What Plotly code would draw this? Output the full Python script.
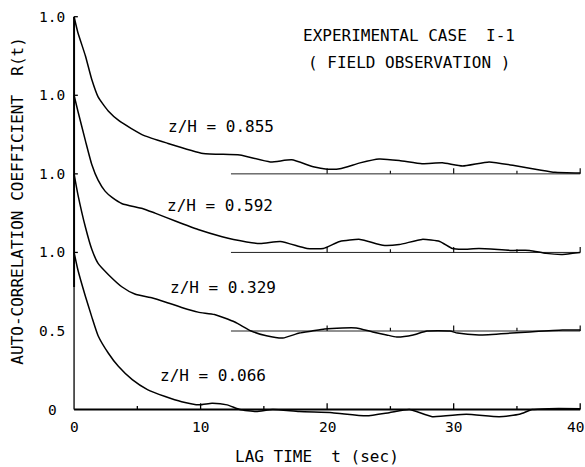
import plotly.graph_objects as go

# ---------------- data ----------------
zh_labels = ["z/H = 0.855", "z/H = 0.592", "z/H = 0.329", "z/H = 0.066"]
offsets = [1.5, 1.0, 0.5, 0.0]

t_0855 = [0, 0.3, 0.9, 1.4, 1.9, 2.7, 3.6, 4.5, 5.5, 7.3, 10.2, 13.1, 15.5, 17.2, 18.9,
          20.0, 21.0, 22.6, 24.1, 25.7, 27.5, 29.1, 30.7, 32.8, 35.0, 36.8, 38.0, 40.0]
r_0855 = [1.0, 0.90, 0.75, 0.60, 0.49, 0.40, 0.335, 0.29, 0.245, 0.197, 0.13, 0.12, 0.076, 0.089,
          0.045, 0.03, 0.032, 0.07, 0.095, 0.085, 0.064, 0.07, 0.05, 0.076, 0.05, 0.025, 0.01, 0.005]

t_0592 = [0, 0.3, 0.9, 1.4, 1.9, 2.45, 3.0, 3.8, 5.4, 6.4, 8.0, 9.8, 11.7, 12.6, 14.7, 16.3,
          17.8, 18.4, 19.7, 21.0, 22.6, 24.4, 25.7, 27.5, 28.9, 29.9, 30.7, 32.0, 34.6, 36.0,
          37.3, 38.6, 39.4, 40.0]
r_0592 = [1.0, 0.90, 0.71, 0.56, 0.46, 0.39, 0.35, 0.31, 0.28, 0.25, 0.20, 0.146, 0.10, 0.083,
          0.057, 0.07, 0.038, 0.025, 0.025, 0.07, 0.083, 0.045, 0.05, 0.083, 0.07, 0.025, 0.02,
          0.025, 0.013, 0.013, -0.006, -0.013, -0.006, 0.0]

t_0329 = [0, 0.3, 0.9, 1.4, 1.9, 2.7, 3.8, 4.8, 6.2, 7.2, 8.5, 9.8, 11.1, 12.7, 14.0, 15.2,
          16.5, 17.8, 18.8, 19.8, 21.2, 22.3, 23.6, 24.7, 25.5, 26.8, 27.9, 29.7, 30.3, 32.0,
          34.6, 36.0, 38.6, 40.0]
r_0329 = [1.0, 0.87, 0.66, 0.52, 0.43, 0.36, 0.28, 0.235, 0.21, 0.185, 0.15, 0.12, 0.105, 0.057,
          0.0, -0.03, -0.045, -0.013, 0.0, 0.013, 0.019, 0.019, -0.006, -0.025, -0.038, -0.025,
          0.0, 0.0, -0.013, -0.025, -0.013, -0.006, 0.006, 0.006]

t_0066 = [0, 0.3, 0.9, 1.4, 1.9, 2.7, 3.5, 4.6, 5.8, 7.2, 8.5, 9.9, 10.9, 12.1, 13.1, 14.4,
          15.7, 17.8, 20.4, 23.1, 24.9, 26.5, 28.3, 31.0, 33.6, 35.2, 36.2, 37.5, 40.0]
r_0066 = [1.0, 0.89, 0.72, 0.59, 0.47, 0.36, 0.275, 0.19, 0.127, 0.083, 0.05, 0.03, 0.04, 0.03,
          0.0, -0.013, 0.0, -0.013, -0.02, -0.04, -0.02, 0.0, -0.045, -0.03, -0.045, -0.03, 0.0,
          0.006, 0.006]

x_tick_vals = [0, 10, 20, 30, 40]
x_tick_text = ["0", "10", "20", "30", "40"]
x_minor_vals = [5, 15, 25, 35]
y_tick_vals = [0, 0.5, 1.0, 1.5, 2.0, 2.5]
y_tick_text = ["0", "0.5", "1.0", "1.0", "1.0", "1.0"]
baseline_start = 12.4
baseline_tick_vals = [20, 25, 30, 35, 40]

title_lines = ["EXPERIMENTAL CASE  I-1", "( FIELD OBSERVATION )"]
x_title = "LAG TIME  t (sec)"
y_title = "AUTO-CORRELATION COEFFICIENT  R(t)"

# ---------------- figure ----------------
FONT = "DejaVu Sans Mono"
fig = go.Figure()
curves = [(t_0855, r_0855), (t_0592, r_0592), (t_0329, r_0329), (t_0066, r_0066)]

# baselines for the offset curves
for off in offsets:
    if off == 0:
        continue
    fig.add_trace(go.Scatter(x=[baseline_start, 40], y=[off, off], mode="lines",
                             line=dict(color="#222", width=1), hoverinfo="skip"))
    bx, by = [], []
    for v in baseline_tick_vals:
        h = 0.035 if v % 10 == 0 else 0.02
        bx += [v, v, None]
        by += [off, off + h, None]
    fig.add_trace(go.Scatter(x=bx, y=by, mode="lines", line=dict(color="#111", width=1.2),
                             hoverinfo="skip"))

# curves
for (tt, rr), off in zip(curves, offsets):
    fig.add_trace(go.Scatter(x=tt, y=[r + off for r in rr], mode="lines",
                             line=dict(color="black", width=1.5, shape="spline", smoothing=0.5),
                             hoverinfo="skip"))

# main x axis
fig.add_trace(go.Scatter(x=[0, 40], y=[0, 0], mode="lines",
                         line=dict(color="black", width=2), hoverinfo="skip"))
tx, ty = [], []
for v in x_tick_vals[1:] + x_minor_vals:
    h = 0.04 if v % 10 == 0 else 0.022
    tx += [v, v, None]
    ty += [0, h, None]
fig.add_trace(go.Scatter(x=tx, y=ty, mode="lines", line=dict(color="black", width=1.3),
                         hoverinfo="skip"))

# main y axis
fig.add_trace(go.Scatter(x=[0, 0], y=[0, 0.78], mode="lines",
                         line=dict(color="black", width=1.3), hoverinfo="skip"))
fig.add_trace(go.Scatter(x=[0, 0], y=[0.78, 2.5], mode="lines",
                         line=dict(color="black", width=2), hoverinfo="skip"))
yx, yy = [], []
for v in y_tick_vals[2:]:
    yx += [0, 0.3, None]
    yy += [v, v, None]
fig.add_trace(go.Scatter(x=yx, y=yy, mode="lines", line=dict(color="black", width=1.3),
                         hoverinfo="skip"))

ann = []
for v, s in zip(x_tick_vals, x_tick_text):
    ann.append(dict(x=v, y=0, text=s, showarrow=False, xanchor="center", yanchor="middle",
                    yshift=-17, xshift=(-5 if v == 40 else 0), font=dict(size=14.5)))
for v, s in zip(y_tick_vals, y_tick_text):
    ann.append(dict(x=0, y=v, text=s, showarrow=False, xanchor="center", yanchor="middle",
                    xshift=-22, font=dict(size=14.5)))
label_pos = [(11.6, 1.80), (11.5, 1.30), (11.8, 0.774), (11.0, 0.22)]
for (lx, ly), s in zip(label_pos, zh_labels):
    ann.append(dict(x=lx, y=ly, text=s, showarrow=False, xanchor="center", yanchor="middle",
                    font=dict(size=16)))
ann.append(dict(x=17.9, y=2.38, text=title_lines[0], showarrow=False, xanchor="left",
                yanchor="middle", font=dict(size=16)))
ann.append(dict(x=18.3, y=2.21, text=title_lines[1], showarrow=False, xanchor="left",
                yanchor="middle", font=dict(size=16)))
ann.append(dict(x=19.2, y=0, text=x_title, showarrow=False, xanchor="center", yanchor="middle",
                yshift=-47, font=dict(size=16)))
ann.append(dict(x=0, y=1.33, text=y_title, showarrow=False, xanchor="center", yanchor="middle",
                xshift=-56, textangle=-90, font=dict(size=16)))

fig.update_layout(
    width=585, height=467,
    margin=dict(l=69, r=1, t=12, b=48),
    paper_bgcolor="white", plot_bgcolor="white",
    showlegend=False,
    font=dict(family=FONT, color="black"),
    xaxis=dict(range=[-0.4, 40.3], visible=False),
    yaxis=dict(range=[-0.06, 2.53], visible=False),
    annotations=ann,
)

fig.write_html("out.html")
